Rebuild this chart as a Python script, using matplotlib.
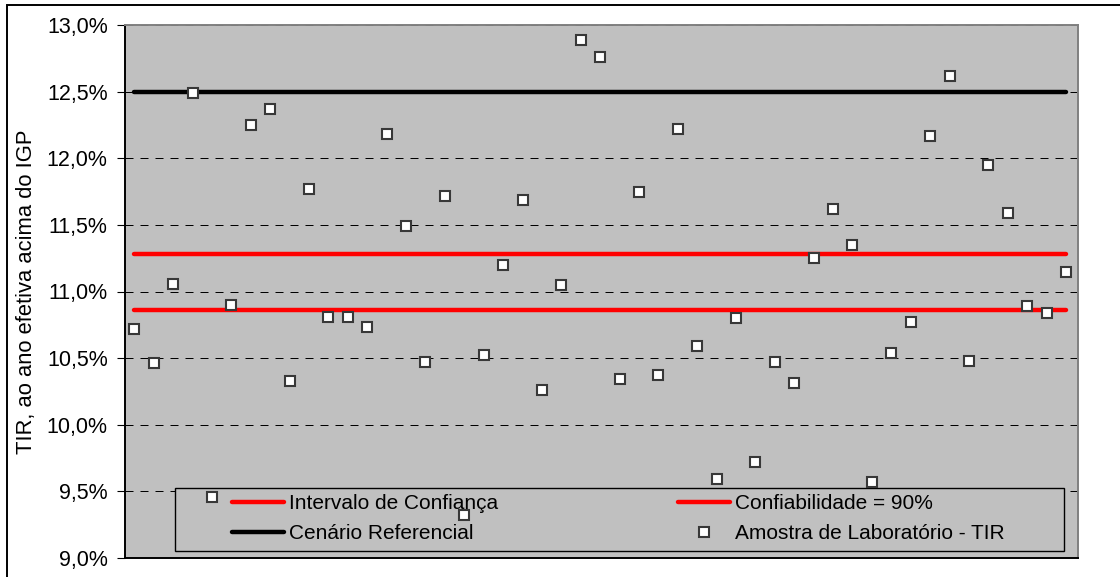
import numpy as np
import matplotlib
matplotlib.use("Agg")
import matplotlib.pyplot as plt
from matplotlib.ticker import FuncFormatter, MultipleLocator
from matplotlib.patches import Rectangle

plt.rcParams['font.family'] = ['Liberation Sans', 'DejaVu Sans']

# TIR das amostras de laboratorio (% ao ano acima do IGP)
tir = [10.72, 10.46, 11.06, 12.49, 9.46, 10.90, 12.25, 12.37, 10.33, 11.77,
       10.81, 10.81, 10.73, 12.18, 11.49, 10.47, 11.72, 9.32, 10.52, 11.20,
       11.69, 10.26, 11.05, 12.89, 12.76, 10.34, 11.75, 10.37, 12.22, 10.59,
       9.59, 10.80, 9.72, 10.47, 10.31, 11.25, 11.62, 11.35, 9.57, 10.54,
       10.77, 12.17, 12.62, 10.48, 11.95, 11.59, 10.89, 10.84, 11.15]
ic_sup = 11.28   # limite superior do intervalo
ic_inf = 10.86   # limite inferior do intervalo
cenario_ref = 12.50

labels = ['Intervalo de Confiança', 'Confiabilidade = 90%',
          'Cenário Referencial', 'Amostra de Laboratório - TIR']

n = len(tir)
x = np.arange(1, n + 1)

fig = plt.figure(figsize=(11.2, 5.77), dpi=100)
ax = fig.add_axes([125/1120, 19/577, 953/1120, 533/577])
ax.set_facecolor('#C0C0C0')

l_ic, = ax.plot(x, [ic_sup]*n, color='#FF0000', lw=3.2, solid_capstyle='round', zorder=3)
l_conf, = ax.plot(x, [ic_inf]*n, color='#FF0000', lw=3.2, solid_capstyle='round', zorder=3)
l_cen, = ax.plot(x, [cenario_ref]*n, color='#000000', lw=3.2, solid_capstyle='round', zorder=3)
l_tir, = ax.plot(x, tir, linestyle='none', marker='s', ms=7, mfc='white',
                 mec='#383838', mew=1.5, zorder=4)

ax.set_xlim(0.52, n + 0.62)
ax.set_ylim(9.0, 13.0)
ax.yaxis.set_major_locator(MultipleLocator(0.5))
ax.yaxis.set_major_formatter(FuncFormatter(lambda v, p: ('%.1f%%' % v).replace('.', ',')))
ax.set_xticks([])
ax.tick_params(axis='y', direction='out', length=5.5, width=0.8, pad=7,
               labelsize=15.5, colors='black')
ax.grid(axis='y', color='black', lw=0.72, linestyle=(0, (8, 7)), zorder=1)
ax.set_axisbelow(True)

ax.spines['left'].set_color('black')
ax.spines['bottom'].set_color('black')
ax.spines['top'].set_color('#808080')
ax.spines['right'].set_color('#808080')
for s in ax.spines.values():
    s.set_linewidth(1.4)

ax.set_ylabel('TIR, ao ano efetiva acima do IGP', fontsize=15.8)
ax.yaxis.set_label_coords(-0.0924, 0.5)

# legend frame
ax.add_patch(Rectangle(((175-125)/953, 7/533), (1064-175)/953, 63/533,
                       transform=ax.transAxes, facecolor='#C0C0C0',
                       edgecolor='black', lw=1.0, zorder=2))
leg = ax.legend([l_ic, l_cen, l_conf, l_tir],
                [labels[0], labels[2], labels[1], labels[3]],
                ncol=2, loc='upper left', frameon=False,
                bbox_to_anchor=((232-125)/953, (558-494)/533),
                borderaxespad=0, borderpad=0, fontsize=15,
                handlelength=2.5, handletextpad=0.25, columnspacing=8.6,
                labelspacing=0.55, numpoints=1)
leg.set_zorder(5)

# outer chart border
fig.patches.append(Rectangle((7/1120, -0.1), 1.2, 1.1 - 5/577,
                             transform=fig.transFigure, fill=False,
                             edgecolor='black', lw=1.4))

fig.savefig('out.png', dpi=100)
